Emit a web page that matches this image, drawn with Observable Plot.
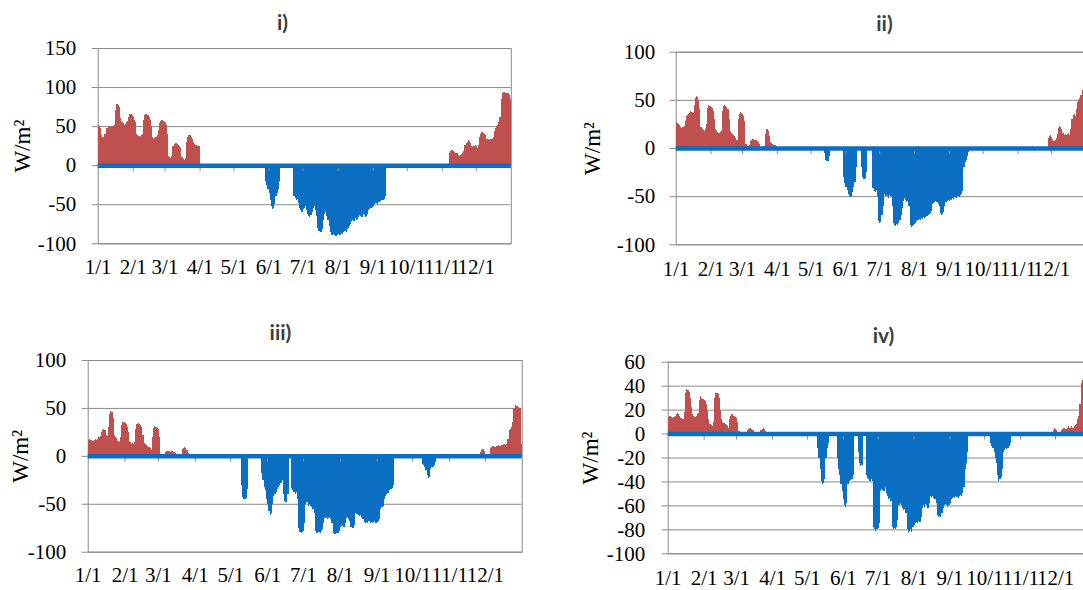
<!DOCTYPE html>
<html>
<head>
<meta charset="utf-8">
<script src="https://cdn.jsdelivr.net/npm/d3@7"></script>
<script src="https://cdn.jsdelivr.net/npm/@observablehq/plot@0.6"></script>
<style>
  html, body { margin: 0; padding: 0; background: #fff; overflow: hidden; width: 1083px; height: 590px; }
  #chart { position: relative; width: 1083px; height: 590px; overflow: hidden; }
  .panel { position: absolute; }
</style>
</head>
<body>
<div id="chart"></div>
<script>
// Day-of-year positions of the month starts and their axis labels
const monthStarts = [0, 31, 59, 90, 120, 151, 181, 212, 243, 273, 304, 334];
const monthLabels = ["1/1", "2/1", "3/1", "4/1", "5/1", "6/1", "7/1", "8/1", "9/1", "10/1", "11/1", "12/1"];

// Daily loads in W/m², stored as [first day of year, daily values...] runs; days not listed are 0.
// Heating is positive (red), cooling is negative (blue).
const heatingI = [
  [0, [52,50,48, 38,35,36,40, 47,48,49,50,50,49,50,52, 70,78,78,77,74,60, 55,54,52,53,55,56,
       62,66,65,64,62,58,55, 40,38,37,36,38,40, 58,64,66,65,64,62,58,50, 36,34,35,36,38,45,
       54,57,58,58,57,55,52,40, 12,10,9,12, 24,27,28,28,27,26,25,22,10, 8,7,9,
       30,36,38,38,36,33,30, 27,26,26,25,24, 0,0,2,1]],
  [310, [16,18,19,19,18,17,16,15, 13,12,13,14,15,18, 26,28,30,32,31,28, 24,23,25,26,24,22,26,
         36,40,42,41,40,38, 34,33,33,32,33,34,36, 44,48,50,52,55,62, 85,92,94,94,93,93,92,90,85]]
];
const coolingI = [
  [148, [-20,-25,-30,-35, -45,-52,-56,-55,-50, -40,-35,-30,-20]],
  [173, [-40,-42,-45,-43,-48, -55,-58,-60,-56,-55,-52, -58,-62,-65,-66,-64,-60, -55,-52,-58,-65,
         -80,-84,-86,-85,-82,-70, -62,-60,-65,-70,-78, -86,-89,-90,-88,-90,-91,-89,-88,-90,-89,-87,-88,-86,
         -84,-85,-82,-80,-78,-75, -72,-70,-71,-68,-70,-69, -66,-64,-65,-66,-63,-64,-66,-65,-62,
         -58,-56,-55,-54,-52, -50,-49,-48,-50,-47,-46, -45,-44,-45,-43,-40]]
];

const heatingII = [
  [0, [27,26,25,24, 22,21,22,23,28, 33,34,35,36, 38,37,36,45, 52,54,53,50,40, 22,20,19,18,20,25,
       42,45,44,43,42,38,30, 20,18,17,16,17,18, 38,44,45,44,43,40,30, 18,16,15,14,12,10,8,
       30,35,37,36,35,33,28, 4,2,2,3, 7,8,9,9,8,8,7,6,4, 1,0,0,2, 15,20,20,18,12, 6,5,4,3,3,2,1]],
  [317, [2,1]],
  [331, [10,12,13,11, 8,7,8,10,15, 21,23,22,20,16, 14,15,14,15,16,14,20, 30,34,35,33,40,
         48,50,52,55, 60,62,61,60]]
];
const coolingII = [
  [132, [-5,-12,-14,-13,-8]],
  [149, [-30,-36,-40,-44, -48,-50,-51,-50,-46,-40, -35,-20]],
  [165, [-20,-30,-32,-31,-25]],
  [175, [-42,-45,-46,-44,-50, -76,-78,-77,-70,-60, -48,-50,-49,-50,-52,-49,-50,-60,
         -78,-80,-81,-79,-80,-78,-75,-70,-62, -55,-52,-54,-56,-55,-60, -80,-82,-81,-80,-79,-78,
         -76,-75,-74,-75,-73,-74,-72,-73, -72,-71,-70,-69,-68,-65, -58,-57,-56,-55,-56,-58,-60,
         -68,-70,-69,-66,-60, -56,-55,-54,-55,-53,-54,-52,-53,-51,-52, -50,-50,-51,-49,-48,-45,
         -20,-15,-12,-8,-4]]
];

const heatingIII = [
  [0, [17,18,17,17,16,17,18,17, 18,20,21, 25,27,28,27, 22,21,30, 44,47,46,40, 22,20,19, 15,14,20,
       32,35,35,34,33,30,25, 14,12,13,12,14, 28,33,34,33,32,30,22, 13,12,11,10,9,8, 6,20,
       29,31,30,29,28,20, 2,1,0,0, 4,5,5,5,4,5,5,4,3, 0,0,0,0,0, 7,8,9,8,6, 3,2,1]],
  [330, [4,6,7,5,2, 0,0,0, 8,9,10,10,9,10,10,11,10,10,11,12, 12,11,12,18, 27,28,30,35,
         50,53,52,52,51,50, 12]]
];
const coolingIII = [
  [129, [-30,-43,-45,-45,-44,-35]],
  [146, [-18,-25,-32,-36,-45,-50,-58,-62,-60,-50, -42,-40,-38,-35,-32,-30,-28,-25,
         -40,-47,-48,-48,-40]],
  [171, [-34,-36,-38,-40,-38,-45, -75,-79,-80,-79,-78,-70, -50,-48,-52,-50,-52,-53,-55,-60,
         -78,-80,-80,-79,-80,-78,-76,-70, -65,-64,-66,-65,-64,-66,-70, -80,-82,-82,-81,-80,-78,
         -74,-73,-72,-74,-70, -65,-64,-66,-68, -74,-75,-75,-72, -60,-61,-62,-63,-62,-64,-66,
         -69,-70,-69,-70,-68,-70,-69,-70,-69,-68,-70,-69,-68,-66, -55,-53,-52, -45,-42,-40,-39,
         -36,-35,-35,-34,-30]],
  [281, [-8,-10,-12,-15, -20,-23,-22, -14,-12,-12,-10,-6]]
];

const heatingIV = [
  [0, [14,15,15,14,13,14,15, 16,17,16,15, 13,12,12,18, 34,37,36,35,30,22, 16,15,14,15,16,17,
       28,31,30,29,28,27, 25,20,12, 8,7,6,10, 30,34,34,33,30,20, 12,10,9,8,7,6,5,
       12,15,16,15,15,14,13,10, 2, 0,0,0,0,0,0, 3,4,5,5,4,3, 0,0,0,0,0,0, 3,4,5,4,2]],
  [332, [3,5,4,3,1, 0,0, 3,4,5,5,4,5,6,5,5,6,5,6,7,8, 12,15,25,42, 45,47,48,50,52,50,48,45]]
];
const coolingIV = [
  [129, [-12,-20,-30, -40,-42,-41,-38, -20,-12,-8]],
  [146, [-20,-30,-35,-42,-48, -55,-60,-61,-58, -42,-40,-39,-38,-38,-35]],
  [164, [-15,-25,-27,-26]],
  [171, [-35,-37,-38,-40,-38,-40, -78,-80,-81,-80,-79,-75, -48,-46,-47,-48,-45,-50,-52,-55,-54,-56,
         -78,-80,-79,-80,-78,-72, -60,-58,-60,-62,-64,-63,-66, -80,-82,-81,-80,-82,-78,
         -76,-75,-74,-75,-73,-74,-70, -62,-60,-61,-59,-60,-62,-58, -52,-53,-52,-54,-55,-58,
         -68,-70,-69,-70,-66, -62,-60,-59,-60,-61,-60,-58, -55,-54,-53,-54,-52,-53,-54,
         -52,-51,-52,-50,-45, -30,-25,-15]],
  [278, [-8,-10,-12,-15,-20,-25, -35,-40,-38,-36,-30, -15,-14,-12,-13,-12,-10,-8]]
];

// Y tick values of each panel
const ticksI = [-100, -50, 0, 50, 100, 150];
const ticksII = [-100, -50, 0, 50, 100];
const ticksIII = [-100, -50, 0, 50, 100];
const ticksIV = [-100, -80, -60, -40, -20, 0, 20, 40, 60];

const panelTitles = ["i)", "ii)", "iii)", "iv)"];
const unitLabel = "W/m²";

const RED = "#C0504D";
const BLUE = "#0A6FC2";
const GRID = "#8A8A8A";
const SERIF = "Liberation Serif, Times New Roman, serif";
const SANS = "Lato, Open Sans, sans-serif";
const TICK_FONT = 21;

const labelOf = new Map(monthStarts.map((d, i) => [d, monthLabels[i]]));

function expand(runs) {
  const rows = [];
  for (const [start, values] of runs) values.forEach((v, k) => rows.push({day: start + k, value: v}));
  return rows;
}

function panel(cfg) {
  const {title, heating, cooling, ticks, left, top, width, height, margin, xPad, yPad, titleAt, unitX} = cfg;
  const yDomain = [ticks[0], ticks[ticks.length - 1]];
  const plotH = height - margin.top - margin.bottom;
  const plotW = width - margin.left - margin.right;
  const tickUnits = 6 * (yDomain[1] - yDomain[0]) / plotH;
  const frameCx = left + margin.left + plotW / 2;
  const frameCy = top + margin.top + plotH / 2;

  const svg = Plot.plot({
    width, height,
    marginLeft: margin.left, marginRight: margin.right,
    marginTop: margin.top, marginBottom: margin.bottom,
    x: {domain: [0, 365]},
    y: {domain: yDomain},
    style: "font-family: " + SERIF + "; font-size: " + TICK_FONT + "px; color: #000; background: transparent; overflow: visible;",
    marks: [
      Plot.ruleY(ticks, {stroke: GRID, strokeWidth: 1}),
      Plot.frame({stroke: GRID, strokeWidth: 1}),
      Plot.rect(expand(heating), {x1: "day", x2: d => d.day + 1, y1: 0, y2: "value", fill: RED, shapeRendering: "crispEdges"}),
      Plot.rect(expand(cooling), {x1: "day", x2: d => d.day + 1, y1: 0, y2: "value", fill: BLUE, shapeRendering: "crispEdges"}),
      Plot.ruleX(monthStarts.slice(1), {x: d => d, y1: 0, y2: -tickUnits, stroke: GRID}),
      Plot.ruleY([0], {stroke: BLUE, strokeWidth: 4.5}),
      Plot.axisY(ticks, {tickSize: 6, tickPadding: yPad, stroke: GRID, color: "#000", tickFormat: d => String(d),
        label: null, fontSize: TICK_FONT, fontFamily: SERIF}),
      Plot.axisX(monthStarts, {tickSize: 0, tickPadding: xPad, color: "#000", tickFormat: d => labelOf.get(d),
        label: null, fontSize: TICK_FONT, fontFamily: SERIF}),
      Plot.text([unitLabel], {text: d => d, frameAnchor: "middle", textAnchor: "middle", lineAnchor: "middle",
        rotate: -90, dx: unitX - frameCx, fontSize: 23, fontFamily: SERIF, fill: "#000"}),
      Plot.text([title], {text: d => d, frameAnchor: "middle", textAnchor: "middle", lineAnchor: "middle",
        dx: titleAt[0] - frameCx, dy: titleAt[1] - frameCy,
        fontFamily: SANS, fontWeight: "bold", fontSize: 21, fill: "#404040"})
    ]
  });
  svg.classList.add("panel");
  svg.style.left = left + "px";
  svg.style.top = top + "px";
  return svg;
}

const chart = document.getElementById("chart");
chart.append(
  panel({title: panelTitles[0], heating: heatingI, cooling: coolingI, ticks: ticksI,
    left: 0, top: 0, width: 515, height: 290,
    margin: {left: 97.7, right: 4.2, top: 48, bottom: 46.7}, xPad: 15, yPad: 16, titleAt: [282, 23], unitX: 22}),
  panel({title: panelTitles[1], heating: heatingII, cooling: coolingII, ticks: ticksII,
    left: 545, top: 0, width: 545, height: 290,
    margin: {left: 130.7, right: 4, top: 51.7, bottom: 45.7}, xPad: 16, yPad: 15, titleAt: [884, 24], unitX: 592}),
  panel({title: panelTitles[2], heating: heatingIII, cooling: coolingIII, ticks: ticksIII,
    left: 0, top: 300, width: 530, height: 290,
    margin: {left: 87.7, right: 8.3, top: 60, bottom: 38.3}, xPad: 15, yPad: 16, titleAt: [280, 333], unitX: 20}),
  panel({title: panelTitles[3], heating: heatingIV, cooling: coolingIV, ticks: ticksIV,
    left: 545, top: 300, width: 550, height: 290,
    margin: {left: 122.7, right: 4, top: 61.7, bottom: 36.7}, xPad: 16, yPad: 17, titleAt: [883, 336], unitX: 590})
);
</script>
</body>
</html>
